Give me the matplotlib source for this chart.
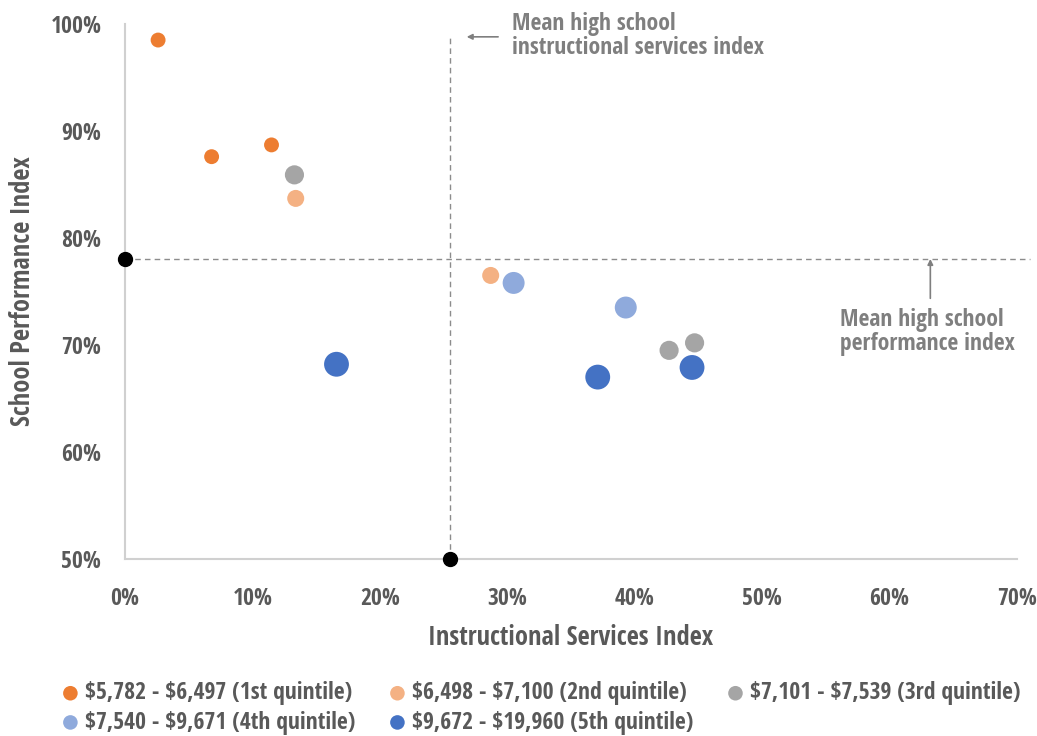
import matplotlib.pyplot as plt
from matplotlib.ticker import PercentFormatter

plt.rcParams['font.family'] = ['Open Sans Condensed', 'Roboto Condensed', 'DejaVu Sans']

# spending quintiles (per-pupil), one series each
quintile_labels = [
    "\\$5,782 - \\$6,497 (1st quintile)",
    "\\$6,498 - \\$7,100 (2nd quintile)",
    "\\$7,101 - \\$7,539 (3rd quintile)",
    "\\$7,540 - \\$9,671 (4th quintile)",
    "\\$9,672 - \\$19,960 (5th quintile)",
]
q1_x = [0.026, 0.068, 0.115]
q1_y = [0.985, 0.876, 0.887]
q2_x = [0.134, 0.287]
q2_y = [0.837, 0.765]
q3_x = [0.133, 0.427, 0.447]
q3_y = [0.859, 0.695, 0.702]
q4_x = [0.305, 0.393]
q4_y = [0.758, 0.735]
q5_x = [0.166, 0.371, 0.445]
q5_y = [0.682, 0.670, 0.679]

# means for high schools
mean_instructional = 0.255
mean_performance = 0.78

colors = ['#ED7D31', '#F4B183', '#A5A5A5', '#8FAADC', '#4472C4']
sizes = [115, 150, 190, 250, 320]
text_gray = '#595959'
note_gray = '#7F7F7F'

fig = plt.figure(figsize=(10.37, 7.36), dpi=100)
ax = fig.add_axes([0.1205, 0.2405, 0.8602, 0.7269])

# reference lines for the means
ax.plot([0, 0.71], [mean_performance, mean_performance], ls=(0, (4, 3)),
        color='#8C8C8C', lw=1.0, clip_on=False, zorder=1)
ax.plot([mean_instructional, mean_instructional], [0.5, 0.99], ls=(0, (4, 3)),
        color='#8C8C8C', lw=1.0, clip_on=False, zorder=1)
ax.scatter([0, mean_instructional], [mean_performance, 0.5], s=100,
           color='black', zorder=4, clip_on=False)

series = [(q1_x, q1_y), (q2_x, q2_y), (q3_x, q3_y), (q4_x, q4_y), (q5_x, q5_y)]
handles = []
for (xs, ys), c, s, lab in zip(series, colors, sizes, quintile_labels):
    h = ax.scatter(xs, ys, s=s, color=c, label=lab, zorder=3, edgecolors='none')
    handles.append(h)

ax.set_xlim(0, 0.7)
ax.set_ylim(0.5, 1.0)
ax.set_xticks([i / 10 for i in range(8)])
ax.set_yticks([0.5, 0.6, 0.7, 0.8, 0.9, 1.0])
ax.xaxis.set_major_formatter(PercentFormatter(1.0, decimals=0))
ax.yaxis.set_major_formatter(PercentFormatter(1.0, decimals=0))
ax.tick_params(axis='x', length=0, labelsize=17, labelcolor=text_gray, pad=20)
ax.tick_params(axis='y', length=0, labelsize=17, labelcolor=text_gray, pad=17)
for lbl in ax.get_xticklabels() + ax.get_yticklabels():
    lbl.set_fontweight('bold')

for side in ['top', 'right']:
    ax.spines[side].set_visible(False)
for side in ['left', 'bottom']:
    ax.spines[side].set_color('#D0D0D0')
    ax.spines[side].set_linewidth(1.5)

ax.set_xlabel('Instructional Services Index', fontsize=19, fontweight='bold',
              color=text_gray)
ax.set_ylabel('School Performance Index', fontsize=19, fontweight='bold',
              color=text_gray)
ax.xaxis.set_label_coords(0.5, -0.122)
ax.yaxis.set_label_coords(-0.100, 0.5)

# notes on the mean lines
ax.annotate('', xy=(0.266, 0.988), xytext=(0.295, 0.988),
            arrowprops=dict(arrowstyle='-|>', color=note_gray, lw=1.2,
                            mutation_scale=8))
ax.text(0.304, 1.011, 'Mean high school\ninstructional services index',
        fontsize=17, fontweight='bold', color=note_gray, va='top', ha='left',
        linespacing=1.0)
ax.annotate('', xy=(0.632, 0.783), xytext=(0.632, 0.741),
            arrowprops=dict(arrowstyle='-|>', color=note_gray, lw=1.2,
                            mutation_scale=8))
ax.text(0.561, 0.735, 'Mean high school\nperformance index',
        fontsize=17, fontweight='bold', color=note_gray, va='top', ha='left',
        linespacing=1.0)

# legend rows read left to right
order = [0, 3, 1, 4, 2]
leg = fig.legend([handles[i] for i in order], [quintile_labels[i] for i in order],
                 ncol=3, loc='upper left', bbox_to_anchor=(0.036, 0.103),
                 frameon=False, prop={'size': 17, 'weight': 'bold'},
                 handletextpad=0.1, columnspacing=1.3, labelspacing=0.22,
                 handlelength=1.0, scatterpoints=1)
for h in leg.legend_handles:
    h.set_sizes([110])
for t in leg.get_texts():
    t.set_color(text_gray)

fig.savefig('out.png', dpi=100)
